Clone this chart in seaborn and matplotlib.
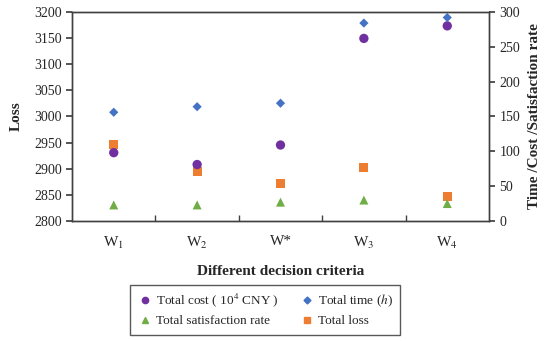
import pandas as pd
import matplotlib.pyplot as plt
import seaborn as sns
from matplotlib.lines import Line2D

criteria = ['W$_1$', 'W$_2$', 'W*', 'W$_3$', 'W$_4$']
total_cost = [98, 81, 109, 262, 280]
total_time = [156, 164, 169, 284, 292]
total_satisfaction = [23, 23, 27, 30, 25]
total_loss = [2947, 2895, 2871, 2902, 2846]

df = pd.DataFrame({'criteria': criteria, 'cost': total_cost, 'time': total_time,
                   'satisfaction': total_satisfaction, 'loss': total_loss})

sns.set_theme(style='ticks')
plt.rcParams['font.family'] = ['Liberation Serif', 'DejaVu Serif']
plt.rcParams['mathtext.fontset'] = 'stix'

c_cost = '#7030A0'
c_time = '#4472C4'
c_sat = '#70AD47'
c_loss = '#ED7D31'

fig = plt.figure(figsize=(5.5, 3.41), dpi=100)
ax = fig.add_axes([0.131, 0.352, 0.758, 0.613])
ax2 = ax.twinx()

sns.scatterplot(data=df, x='criteria', y='loss', ax=ax, marker='s', s=42,
                color=c_loss, edgecolor='none', zorder=3)
sns.scatterplot(data=df, x='criteria', y='cost', ax=ax2, marker='o', s=45,
                color=c_cost, edgecolor='none')
sns.scatterplot(data=df, x='criteria', y='time', ax=ax2, marker='D', s=22,
                color=c_time, edgecolor='none')
sns.scatterplot(data=df, x='criteria', y='satisfaction', ax=ax2, marker='^', s=42,
                color=c_sat, edgecolor='none')

ax.set_xlim(-0.5, 4.5)
ax.set_ylim(2800, 3200)
ax.set_yticks(range(2800, 3201, 50))
ax2.set_ylim(0, 300)
ax2.set_yticks(range(0, 301, 50))

ax.set_xticks(range(5))
ax.set_xticklabels(criteria)
ax.set_xticks([0.5, 1.5, 2.5, 3.5], minor=True)
ax.tick_params(axis='x', which='major', length=0, pad=10, labelsize=11)
ax.tick_params(axis='x', which='minor', length=4, direction='in', color='#404040')
ax.tick_params(axis='y', labelsize=10, length=4, color='#404040')
ax2.tick_params(axis='y', labelsize=10, length=4, color='#404040')

for a in (ax, ax2):
    for sp in a.spines.values():
        sp.set_color('#404040')
        sp.set_linewidth(1.0)

ax.set_xlabel('Different decision criteria', fontsize=11, fontweight='bold', labelpad=10)
ax.set_ylabel('Loss', fontsize=11, fontweight='bold', labelpad=8)
ax2.set_ylabel('Time /Cost /Satisfaction rate', fontsize=11, fontweight='bold', labelpad=6)

handles = [
    Line2D([], [], marker='o', color=c_cost, linestyle='none', markersize=4.5),
    Line2D([], [], marker='^', color=c_sat, linestyle='none', markersize=4.5),
    Line2D([], [], marker='D', color=c_time, linestyle='none', markersize=3.5),
    Line2D([], [], marker='s', color=c_loss, linestyle='none', markersize=4.5),
]
labels = ['Total cost ( 10$^4$ CNY )', 'Total satisfaction rate',
          'Total time ($h$)', 'Total loss']
fig.legend(handles, labels, ncol=2, loc='center', bbox_to_anchor=(0.482, 0.092),
           frameon=True, fancybox=False, edgecolor='#303030', fontsize=9.5,
           handletextpad=0.2, columnspacing=1.6, handlelength=1.2,
           borderpad=0.55, labelspacing=0.45)

fig.savefig('out.png', dpi=100)
